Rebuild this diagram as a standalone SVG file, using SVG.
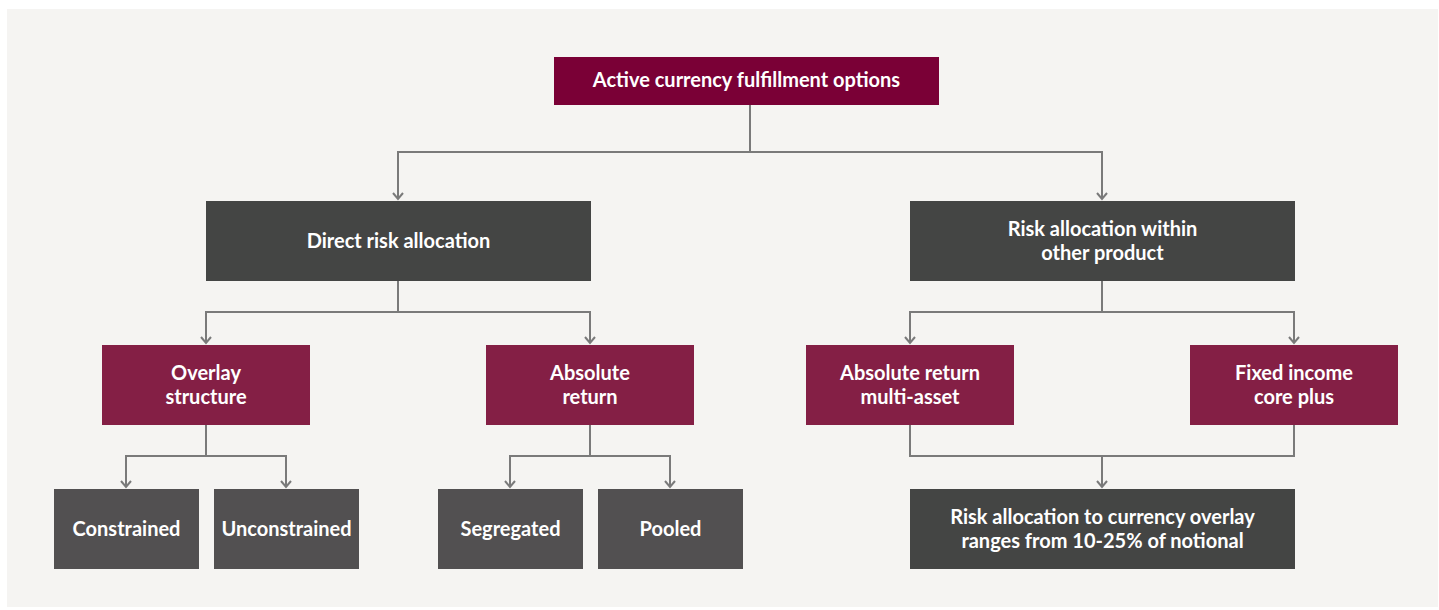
<svg xmlns="http://www.w3.org/2000/svg" width="1439" height="610" viewBox="0 0 1439 610">
<defs>
<marker id="arr" markerWidth="12" markerHeight="12" refX="9" refY="6" orient="auto" markerUnits="userSpaceOnUse" viewBox="0 0 12 12">
<polyline points="3,1 9,6 3,11" fill="none" stroke="#7a7a7a" stroke-width="2"/>
</marker>
<style>
.t{font-family:Lato,"Liberation Sans",sans-serif;font-weight:bold;font-size:20px;fill:#ffffff;text-anchor:middle}
.top{fill:#7a0036}
.bur{fill:#841f45}
.dk{fill:#444544}
.lf{fill:#525051}
.c{fill:none;stroke:#7a7a7a;stroke-width:2}
</style>
</defs>
<rect x="0" y="0" width="1439" height="610" fill="#ffffff"/>
<rect x="7" y="9" width="1431" height="598" fill="#f5f4f2"/>
<g id="connectors">
<path class="c" d="M750,104 V152"/>
<path class="c" d="M398,152 H1102"/>
<path class="c" d="M398,151 V199" marker-end="url(#arr)"/>
<path class="c" d="M1102,151 V199" marker-end="url(#arr)"/>
<path class="c" d="M398,281 V312"/>
<path class="c" d="M206,312 H590"/>
<path class="c" d="M206,311 V343" marker-end="url(#arr)"/>
<path class="c" d="M590,311 V343" marker-end="url(#arr)"/>
<path class="c" d="M1102,281 V312"/>
<path class="c" d="M910,312 H1294"/>
<path class="c" d="M910,311 V343" marker-end="url(#arr)"/>
<path class="c" d="M1294,311 V343" marker-end="url(#arr)"/>
<path class="c" d="M206,425 V456"/>
<path class="c" d="M126,456 H286"/>
<path class="c" d="M126,455 V487" marker-end="url(#arr)"/>
<path class="c" d="M286,455 V487" marker-end="url(#arr)"/>
<path class="c" d="M590,425 V456"/>
<path class="c" d="M510,456 H670"/>
<path class="c" d="M510,455 V487" marker-end="url(#arr)"/>
<path class="c" d="M670,455 V487" marker-end="url(#arr)"/>
<path class="c" d="M910,425 V456 H1294 V425"/>
<path class="c" d="M1102,456 V487" marker-end="url(#arr)"/>
</g>
<g id="n-root"><rect class="top" x="554" y="57" width="385" height="48"/><text class="t" x="746.5" y="87">Active currency fulfillment options</text></g>
<g id="n-direct"><rect class="dk" x="206" y="201" width="385" height="80"/><text class="t" x="398.5" y="248">Direct risk allocation</text></g>
<g id="n-within"><rect class="dk" x="910" y="201" width="385" height="80"/><text class="t" x="1102.5" y="236">Risk allocation within</text><text class="t" x="1102.5" y="260">other product</text></g>
<g id="n-overlay"><rect class="bur" x="102" y="345" width="208" height="80"/><text class="t" x="206" y="380">Overlay</text><text class="t" x="206" y="404">structure</text></g>
<g id="n-absret"><rect class="bur" x="486" y="345" width="208" height="80"/><text class="t" x="590" y="380">Absolute</text><text class="t" x="590" y="404">return</text></g>
<g id="n-multi"><rect class="bur" x="806" y="345" width="208" height="80"/><text class="t" x="910" y="380">Absolute return</text><text class="t" x="910" y="404">multi-asset</text></g>
<g id="n-fixed"><rect class="bur" x="1190" y="345" width="208" height="80"/><text class="t" x="1294" y="380">Fixed income</text><text class="t" x="1294" y="404">core plus</text></g>
<g id="n-constrained"><rect class="lf" x="54" y="489" width="145" height="80"/><text class="t" x="126.5" y="536">Constrained</text></g>
<g id="n-unconstrained"><rect class="lf" x="214" y="489" width="145" height="80"/><text class="t" x="286.5" y="536">Unconstrained</text></g>
<g id="n-segregated"><rect class="lf" x="438" y="489" width="145" height="80"/><text class="t" x="510.5" y="536">Segregated</text></g>
<g id="n-pooled"><rect class="lf" x="598" y="489" width="145" height="80"/><text class="t" x="670.5" y="536">Pooled</text></g>
<g id="n-range"><rect class="dk" x="910" y="489" width="385" height="80"/><text class="t" x="1102.5" y="524">Risk allocation to currency overlay</text><text class="t" x="1102.5" y="548">ranges from 10-25% of notional</text></g>
</svg>
